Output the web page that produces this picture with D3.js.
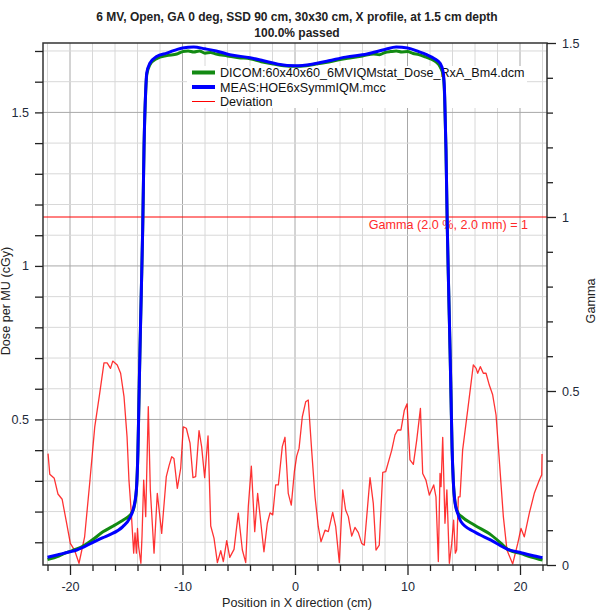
<!DOCTYPE html>
<html>
<head>
<meta charset="utf-8">
<script src="https://cdn.jsdelivr.net/npm/d3@7"></script>
<style>
  body { margin: 0; background: #fff; }
  svg { font-family: "Liberation Sans", Arial, sans-serif; }
</style>
</head>
<body>
<div id="chart"></div>
<script>
// titles and labels
const titleLines = ['6 MV, Open, GA 0 deg, SSD 90 cm, 30x30 cm, X profile, at 1.5 cm depth', '100.0% passed'];
const legendNames = ['DICOM:60x40x60_6MVIQMstat_Dose_RxA_Bm4.dcm', 'MEAS:HOE6xSymmIQM.mcc', 'Deviation'];
const gammaLabel = 'Gamma (2.0 %, 2.0 mm) = 1';

// tick values
const xTicks = [-22, -20, -18, -16, -14, -12, -10, -8, -6, -4, -2, 0, 2, 4, 6, 8, 10, 12, 14, 16, 18, 20, 22];
const xLabelTicks = [-20, -10, 0, 10, 20];
const doseTicks = [0.1, 0.2, 0.3, 0.4, 0.5, 0.6, 0.7, 0.8, 0.9, 1, 1.1, 1.2, 1.3, 1.4, 1.5, 1.6, 1.7];
const doseLabelTicks = [0.5, 1, 1.5];
const gammaTicks = [0, 0.1, 0.2, 0.3, 0.4, 0.5, 0.6, 0.7, 0.8, 0.9, 1, 1.1, 1.2, 1.3, 1.4, 1.5];
const gammaLabelTicks = [0, 0.5, 1, 1.5];
const gammaLimit = 1;

// measured profile [position cm, dose cGy/MU]
const measProfile = [
  [-22, 0.051], [-21, 0.06], [-20, 0.069], [-19.4, 0.075], [-18, 0.099], [-17.07, 0.115], [-16.5, 0.124],
  [-15.3, 0.151], [-14.7, 0.178], [-14.4, 0.205], [-14.1, 0.27], [-13.96, 0.40], [-13.87, 0.563],
  [-13.78, 0.726], [-13.66, 0.92], [-13.54, 1.117], [-13.42, 1.388], [-13.27, 1.573], [-13.18, 1.628],
  [-12.9, 1.66], [-12.3, 1.682], [-11.4, 1.693], [-10, 1.71], [-9, 1.713], [-8, 1.707], [-7, 1.70],
  [-5.8, 1.688], [-4, 1.678], [-2.8, 1.668], [-1.5, 1.657], [0, 1.652], [1.5, 1.657], [3, 1.668],
  [4.5, 1.68], [6.4, 1.69], [8, 1.705], [9, 1.713], [10, 1.71], [11, 1.698], [11.7, 1.688], [12.4, 1.675],
  [12.9, 1.66], [13.18, 1.63], [13.3, 1.56], [13.42, 1.38], [13.54, 1.12], [13.66, 0.92], [13.78, 0.73],
  [13.87, 0.57], [13.96, 0.41], [14.07, 0.30], [14.2, 0.235], [14.46, 0.194], [14.76, 0.167],
  [15.94, 0.134], [17.42, 0.107], [18.9, 0.077], [20.1, 0.066], [21, 0.058], [22, 0.05]
];

// calculated (DICOM) profile
const dicomProfile = [
  [-22, 0.044], [-21, 0.055], [-20.6, 0.062], [-19.8, 0.073], [-19.0, 0.084], [-18, 0.108], [-17.07, 0.134],
  [-16.2, 0.152], [-15.29, 0.172], [-14.84, 0.183], [-14.55, 0.194], [-14.3, 0.215], [-14.1, 0.27],
  [-13.96, 0.40], [-13.87, 0.563], [-13.78, 0.726], [-13.66, 0.92], [-13.54, 1.117], [-13.42, 1.385],
  [-13.27, 1.568], [-13.18, 1.622], [-12.9, 1.655], [-12.3, 1.675], [-11.4, 1.685], [-10.5, 1.69],
  [-10, 1.698], [-9.5, 1.70], [-9, 1.697], [-8.5, 1.70], [-8, 1.693], [-7.5, 1.695], [-7, 1.69],
  [-6, 1.684], [-5, 1.678], [-4, 1.675], [-3, 1.665], [-2, 1.658], [-1, 1.652], [0, 1.65], [1, 1.652],
  [2, 1.658], [3, 1.664], [4, 1.672], [5, 1.678], [6, 1.684], [7, 1.69], [7.5, 1.688], [8, 1.695],
  [8.5, 1.698], [9, 1.70], [9.5, 1.697], [10, 1.698], [10.5, 1.692], [11, 1.688], [11.5, 1.682],
  [12, 1.675], [12.5, 1.665], [12.9, 1.648], [13.18, 1.62], [13.3, 1.55], [13.42, 1.38], [13.54, 1.12],
  [13.66, 0.92], [13.78, 0.73], [13.87, 0.57], [13.96, 0.41], [14.07, 0.30], [14.25, 0.225], [14.5, 0.195],
  [14.76, 0.185], [15.94, 0.156], [17.42, 0.124], [18.3, 0.097], [18.9, 0.077], [20.1, 0.063],
  [21, 0.052], [22, 0.042]
];

// gamma deviation [position cm, gamma]
const deviation = [
  [-21.95, 0.32], [-21.8, 0.261], [-21.4, 0.249], [-21.07, 0.204], [-20.7, 0.189], [-20.3, 0.12],
  [-19.97, 0.062], [-19.6, 0.043], [-19.2, 0.005], [-18.7, 0.081], [-18.25, 0.235], [-17.8, 0.397],
  [-17.36, 0.493], [-16.98, 0.581], [-16.7, 0.581], [-16.4, 0.565], [-16.2, 0.586], [-15.8, 0.575],
  [-15.5, 0.551], [-15.2, 0.484], [-14.93, 0.369], [-14.76, 0.244], [-14.55, 0.149], [-14.34, 0.034],
  [-14.22, 0.092], [-14.1, 0.034], [-14.0, 0.105], [-13.9, 0.053], [-13.7, 0.005], [-13.6, 0.081],
  [-13.45, 0.244], [-13.27, 0.139], [-13.04, 0.455], [-12.86, 0.216], [-12.53, 0.034], [-12.24, 0.206],
  [-11.85, 0.091], [-11.44, 0.254], [-11.2, 0.285], [-10.96, 0.311], [-10.76, 0.306], [-10.46, 0.22],
  [-10.16, 0.278], [-9.93, 0.397], [-9.66, 0.393], [-9.33, 0.35], [-9.07, 0.251], [-8.83, 0.254],
  [-8.53, 0.386], [-8.3, 0.34], [-8.03, 0.251], [-7.73, 0.371], [-7.49, 0.112], [-7.2, 0.077],
  [-6.9, 0.007], [-6.6, 0.041], [-6.37, 0.01], [-6.07, 0.07], [-5.8, 0.022], [-5.42, 0.045],
  [-5.04, 0.149], [-4.68, 0.043], [-4.38, 0.007], [-4.15, 0.168], [-3.88, 0.284], [-3.58, 0.096],
  [-3.32, 0.206], [-2.76, 0.038], [-2.46, 0.12], [-2.22, 0.15], [-1.98, 0.144], [-1.72, 0.23],
  [-1.48, 0.23], [-1.13, 0.34], [-0.89, 0.367], [-0.6, 0.206], [-0.33, 0.172], [-0.05, 0.27],
  [0.15, 0.313], [0.36, 0.335], [0.65, 0.426], [0.95, 0.469], [1.18, 0.474], [1.48, 0.33], [1.78, 0.196],
  [2.07, 0.11], [2.31, 0.067], [2.67, 0.1], [2.96, 0.096], [3.35, 0.151], [3.62, 0.11], [3.94, 0.007],
  [4.24, 0.216], [4.5, 0.158], [4.74, 0.139], [5.04, 0.083], [5.33, 0.108], [5.63, 0.093], [5.93, 0.062],
  [6.16, 0.057], [6.67, 0.251], [6.96, 0.177], [7.2, 0.043], [7.49, 0.057], [7.8, 0.266], [8.06, 0.268],
  [8.6, 0.33], [8.89, 0.374], [9.13, 0.388], [9.42, 0.388], [9.72, 0.445], [9.96, 0.463], [10.22, 0.302],
  [10.52, 0.289], [10.82, 0.359], [11.15, 0.45], [11.35, 0.263], [11.64, 0.244], [11.94, 0.201],
  [12.33, 0.23], [12.53, 0.196], [12.74, 0.01], [12.89, 0.263], [12.98, 0.225], [13.13, 0.367],
  [13.33, 0.12], [13.5, 0.216], [13.72, 0.005], [13.93, 0.062], [14.1, 0.129], [14.25, 0.034],
  [14.37, 0.043], [14.52, 0.196], [14.67, 0.196], [14.9, 0.33], [15.35, 0.445], [15.85, 0.575],
  [16.1, 0.565], [16.24, 0.551], [16.47, 0.57], [16.74, 0.551], [16.98, 0.551], [17.27, 0.517],
  [17.57, 0.489], [17.87, 0.431], [18.16, 0.302], [18.52, 0.139], [18.84, 0.043], [19.35, 0.003],
  [19.8, 0.062], [20.09, 0.105], [20.38, 0.081], [20.83, 0.149], [21.27, 0.206], [21.72, 0.244],
  [21.93, 0.259], [21.96, 0.319]
];

const W = 608, H = 611;
const plot = {left: 43, top: 43, right: 547, bottom: 565};

const svg = d3.select('#chart').append('svg')
  .attr('width', W)
  .attr('height', H);

// scales
const x = d3.scaleLinear().domain([-22.4, 22.4]).range([plot.left, plot.right]);
const yDose = d3.scaleLinear().domain([0.026, 1.726]).range([plot.bottom, plot.top]);
const yGamma = d3.scaleLinear().domain([0, 1.5]).range([plot.bottom, plot.top]);

const isMajor = (v, step) => Math.abs(v / step - Math.round(v / step)) < 1e-6;

// ---- grid ----
const grid = svg.append('g');
grid.selectAll('line.vx').data(xTicks).enter().append('line')
  .attr('x1', d => x(d)).attr('x2', d => x(d))
  .attr('y1', plot.top).attr('y2', plot.bottom)
  .style('stroke', d => isMajor(d, 10) ? '#a8a8a8' : '#d8d8d8')
  .style('stroke-width', 1);
grid.selectAll('line.hy').data(doseTicks).enter().append('line')
  .attr('x1', plot.left).attr('x2', plot.right)
  .attr('y1', d => yDose(d)).attr('y2', d => yDose(d))
  .style('stroke', d => isMajor(d, 0.5) ? '#a8a8a8' : '#d8d8d8')
  .style('stroke-width', 1);

// gamma limit line + text
svg.append('line')
  .attr('x1', plot.left).attr('x2', plot.right)
  .attr('y1', yGamma(gammaLimit)).attr('y2', yGamma(gammaLimit))
  .style('stroke', '#ff0000').style('stroke-width', 1);
svg.append('text')
  .attr('x', 528).attr('y', yGamma(gammaLimit) + 12)
  .attr('text-anchor', 'end')
  .style('font-size', '12.6px')
  .style('fill', '#ff2a2a')
  .text(gammaLabel);

// legend background (hides the grid behind it)
const legend = svg.append('g');
legend.append('rect')
  .attr('x', 187).attr('y', 66).attr('width', 340).attr('height', 42)
  .style('fill', '#fff');

// ---- curves ----
const profileLine = d3.line()
  .x(d => x(d[0]))
  .y(d => yDose(d[1]))
  .curve(d3.curveMonotoneX);
const devLine = d3.line()
  .x(d => x(d[0]))
  .y(d => yGamma(d[1]));

svg.append('path').datum(deviation)
  .attr('d', devLine)
  .style('fill', 'none').style('stroke', '#ff0000')
  .style('stroke-width', 1.3).style('stroke-opacity', 0.8)
  .style('stroke-linejoin', 'round');
svg.append('path').datum(dicomProfile)
  .attr('d', profileLine)
  .style('fill', 'none').style('stroke', '#138a13').style('stroke-width', 3);
svg.append('path').datum(measProfile)
  .attr('d', profileLine)
  .style('fill', 'none').style('stroke', '#0000ff').style('stroke-width', 3);

// legend entries
const legendColors = ['#138a13', '#0000ff', '#ff0000'];
const legendWidths = [4, 4, 1];
legendNames.forEach((name, i) => {
  const ly = 72.5 + i * 14.5;
  legend.append('line')
    .attr('x1', 192).attr('x2', 215).attr('y1', ly).attr('y2', ly)
    .style('stroke', legendColors[i]).style('stroke-width', legendWidths[i]);
  legend.append('text')
    .attr('x', 220).attr('y', ly + 4.5)
    .style('font-size', '12.6px').style('fill', '#111')
    .text(name);
});

// ---- frame & axes ----
svg.append('rect')
  .attr('x', plot.left).attr('y', plot.top)
  .attr('width', plot.right - plot.left).attr('height', plot.bottom - plot.top)
  .style('fill', 'none').style('stroke', '#333').style('stroke-width', 1.5);

const xAxis = svg.append('g')
  .attr('transform', `translate(0,${plot.bottom})`)
  .call(d3.axisBottom(x).tickValues(xTicks).tickSize(6).tickSizeOuter(0)
    .tickFormat(d => xLabelTicks.includes(d) ? d : ''));
xAxis.selectAll('.tick line').attr('y2', d => isMajor(d, 10) ? 10 : 6);
xAxis.selectAll('.tick text').attr('y', 17);

const leftAxis = svg.append('g')
  .attr('transform', `translate(${plot.left},0)`)
  .call(d3.axisLeft(yDose).tickValues(doseTicks).tickSize(8).tickSizeOuter(0)
    .tickFormat(d => doseLabelTicks.some(v => Math.abs(v - d) < 1e-6) ? d3.format('')(+d.toFixed(1)) : ''));
leftAxis.selectAll('.tick text').attr('x', -14);

const rightAxis = svg.append('g')
  .attr('transform', `translate(${plot.right},0)`)
  .call(d3.axisRight(yGamma).tickValues(gammaTicks).tickSize(6).tickSizeOuter(0)
    .tickFormat(d => gammaLabelTicks.some(v => Math.abs(v - d) < 1e-6) ? d3.format('')(+d.toFixed(1)) : ''));
rightAxis.selectAll('.tick line').attr('x2', d => isMajor(d, 0.5) ? 9 : 6);
rightAxis.selectAll('.tick text').attr('x', 15);

[xAxis, leftAxis, rightAxis].forEach(ax => {
  ax.select('.domain').remove();
  ax.selectAll('.tick line').style('stroke', '#222').style('stroke-width', 1.3);
  ax.selectAll('.tick text')
    .style('font-family', '"Liberation Sans", Arial, sans-serif')
    .style('font-size', '12.6px').style('fill', '#1e2a3a');
});

// ---- titles ----
titleLines.forEach((t, i) => {
  svg.append('text')
    .attr('x', 297).attr('y', 21 + i * 15.5)
    .attr('text-anchor', 'middle')
    .style('font-size', '12px').style('font-weight', 'bold').style('fill', '#222')
    .text(t);
});

svg.append('text')
  .attr('x', 297).attr('y', 607)
  .attr('text-anchor', 'middle')
  .style('font-size', '12.6px').style('fill', '#222')
  .text('Position in X direction (cm)');

svg.append('text')
  .attr('transform', `translate(10,${(plot.top + plot.bottom) / 2 - 3})rotate(-90)`)
  .attr('text-anchor', 'middle')
  .style('font-size', '12.6px').style('fill', '#222')
  .text('Dose per MU (cGy)');

svg.append('text')
  .attr('transform', `translate(595,${(plot.top + plot.bottom) / 2 - 3})rotate(-90)`)
  .attr('text-anchor', 'middle')
  .style('font-size', '12.6px').style('fill', '#222')
  .text('Gamma');
</script>
</body>
</html>
